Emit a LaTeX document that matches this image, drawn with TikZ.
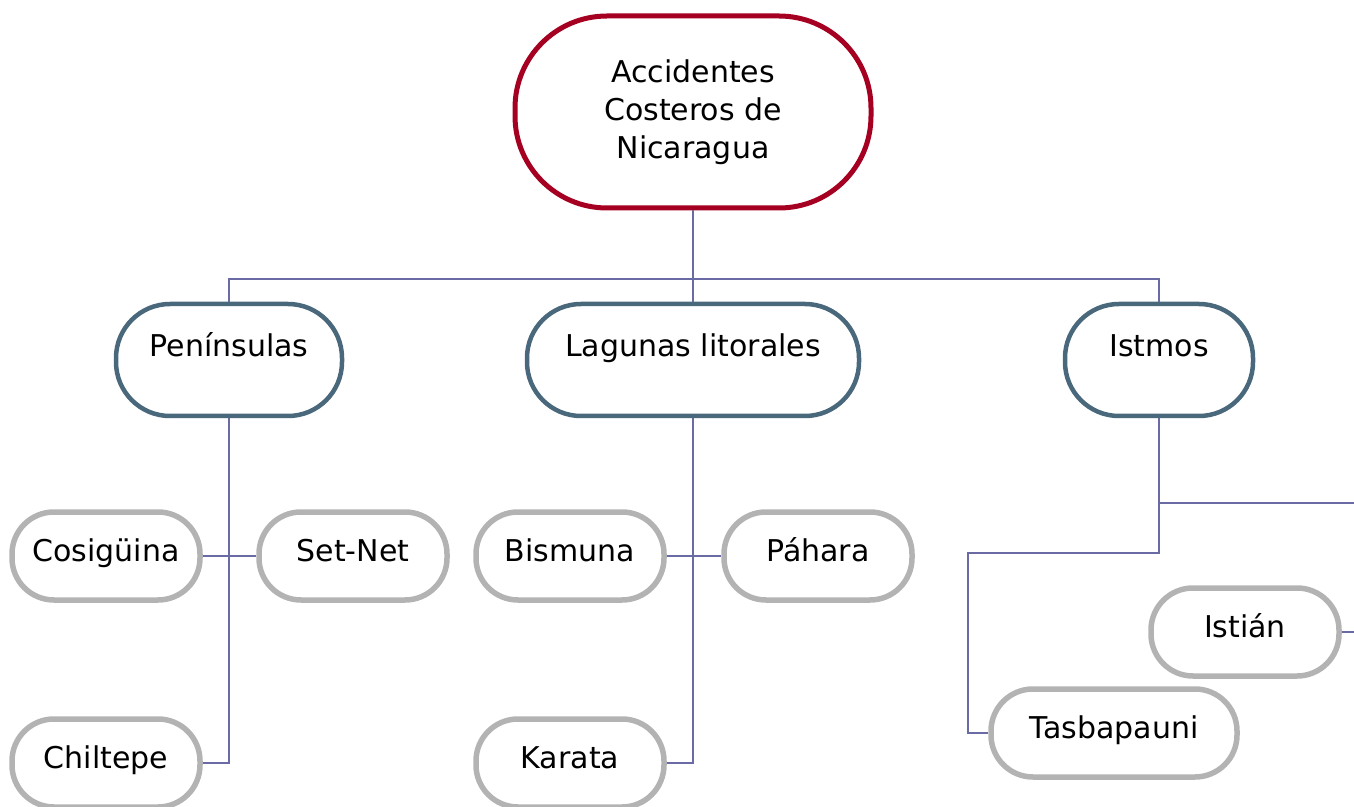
\documentclass[tikz,border=0pt]{standalone}
\usepackage{fontspec}
\setmainfont{DejaVu Sans}
\definecolor{rootred}{RGB}{165,0,33}
\definecolor{slate}{RGB}{73,104,124}
\definecolor{leafgray}{RGB}{179,179,179}
\definecolor{linkblue}{RGB}{106,106,164}
\tikzset{
  root/.style={draw=rootred, line width=2.5pt, rounded corners=46pt, minimum width=178pt, minimum height=96pt, align=center, font=\fontsize{15}{19}\selectfont},
  group/.style={draw=slate, line width=2.25pt, rounded corners=27pt, minimum height=56pt, text height=11pt, text depth=14pt, font=\fontsize{15}{19}\selectfont},
  leaf/.style={draw=leafgray, line width=2.75pt, rounded corners=21pt, minimum width=94pt, minimum height=44pt, text height=11pt, text depth=6pt, font=\fontsize{15}{19}\selectfont},
  link/.style={draw=linkblue, line width=0.75pt}
}
\begin{document}
\begin{tikzpicture}[x=0.5pt,y=-0.5pt]
    \useasboundingbox (0,0) rectangle (1354,807);
    \draw (693,112) node[root] (acc) {Accidentes\\Costeros de\\Nicaragua};
    \draw (229,360) node[group, minimum width=113pt] (pen) {Penínsulas};
    \draw (693,360) node[group, minimum width=166pt] (lag) {Lagunas litorales};
    \draw (1159,360) node[group, minimum width=94pt] (ist) {Istmos};
    \draw (106,556) node[leaf] (cos) {Cosigüina};
    \draw (353,556) node[leaf] (set) {Set-Net};
    \draw (106,763) node[leaf] (chil) {Chiltepe};
    \draw (570,556) node[leaf] (bis) {Bismuna};
    \draw (818,556) node[leaf] (pah) {Páhara};
    \draw (570,763) node[leaf] (kar) {Karata};
    \draw (1245,632) node[leaf] (isti) {Istián};
    \draw (1114,733) node[leaf, minimum width=123pt] (tas) {Tasbapauni};

    \coordinate (hub) at (693,279);
    \coordinate (tturn) at (968,553);
    \coordinate (outa) at (1354,503);
    \coordinate (outb) at (1354,632);

    \draw[link] (acc) -- (hub);
    \draw[link] (pen.north) |- (hub) -| (ist.north);
    \draw[link] (hub) -- (lag.north);
    \draw[link] (pen.south) |- (chil.east);
    \draw[link] (cos.east) -- (set.west);
    \draw[link] (lag.south) |- (kar.east);
    \draw[link] (bis.east) -- (pah.west);
    \draw[link] (ist.south) |- (outa);
    \draw[link] (ist.south) |- (tturn) |- (tas.west);
    \draw[link] (isti.east) -- (outb);
\end{tikzpicture}
\end{document}
